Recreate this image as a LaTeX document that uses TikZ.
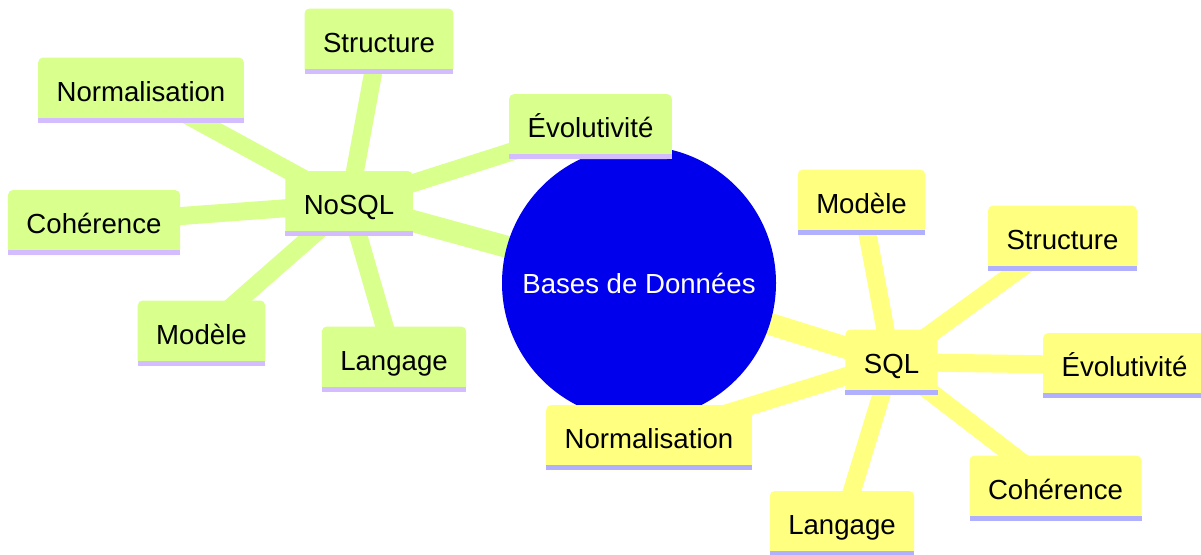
\documentclass[tikz,border=0pt]{standalone}
\usepackage{fontspec}
\setmainfont{Liberation Sans}
\definecolor{gfill}{RGB}{217,255,140}
\definecolor{gline}{RGB}{211,189,255}
\definecolor{yfill}{RGB}{255,255,128}
\definecolor{yline}{RGB}{176,176,255}
\definecolor{rootblue}{RGB}{0,0,236}
\pgfdeclarelayer{bg}
\pgfsetlayers{bg,main}
\tikzset{
  mmfont/.style={font=\fontsize{27.6}{33}\selectfont},
  box/.style={rectangle, rounded corners=5pt, inner xsep=18.5pt, inner ysep=0pt,
    text height=43.5pt, text depth=21.5pt, outer sep=0pt, mmfont},
  gbox/.style={box, fill=gfill},
  ybox/.style={box, fill=yfill},
  rootnode/.style={circle, fill=rootblue, minimum size=274pt, inner sep=0pt, outer sep=0pt, text=white, mmfont},
  gedge/.style={draw=gfill, line width=18pt},
  yedge/.style={draw=yfill, line width=18pt},
  gedge0/.style={draw=gfill, line width=22pt},
  yedge0/.style={draw=yfill, line width=22pt},
}
\newcommand{\mmbar}[2]{\fill[#1] (#2.south west) rectangle ([yshift=5pt]#2.south east);}
\begin{document}
\begin{tikzpicture}[x=1pt,y=-1pt]
\useasboundingbox (0,0) rectangle (1201,554);
\node[rootnode] (root) at (639,283) {Bases de Données};
% NoSQL branch
\node[gbox] (nosql) at (349,203.5) {NoSQL};
\node[gbox] (gstruct) at (379,41) {Structure};
\node[gbox] (gnorm) at (141,90) {Normalisation};
\node[gbox] (gevol) at (590.5,126.5) {Évolutivité};
\node[gbox] (gcoh) at (94,222.5) {Cohérence};
\node[gbox] (gmod) at (201.5,333) {Modèle};
\node[gbox] (glang) at (394,359) {Langage};
\foreach \n in {nosql,gstruct,gnorm,gevol,gcoh,gmod,glang} {\mmbar{gline}{\n}}
% SQL branch
\node[ybox] (sql) at (891.5,362) {SQL};
\node[ybox] (ymod) at (861.5,202) {Modèle};
\node[ybox] (ystruct) at (1062.5,238) {Structure};
\node[ybox] (yevol) at (1124.5,365.5) {Évolutivité};
\node[ybox] (ycoh) at (1055.5,488) {Cohérence};
\node[ybox] (ylang) at (842,523.5) {Langage};
\node[ybox] (ynorm) at (649,437.5) {Normalisation};
\foreach \n in {sql,ymod,ystruct,yevol,ycoh,ylang,ynorm} {\mmbar{yline}{\n}}
\begin{pgfonlayer}{bg}
\draw[gedge0] (root.center) -- (nosql.center);
\draw[yedge0] (root.center) -- (sql.center);
\foreach \n in {gstruct,gnorm,gevol,gcoh,gmod,glang}
  \draw[gedge] (nosql.center) -- (\n.center);
\foreach \n in {ymod,ystruct,yevol,ycoh,ylang,ynorm}
  \draw[yedge] (sql.center) -- (\n.center);
\end{pgfonlayer}
\end{tikzpicture}
\end{document}
